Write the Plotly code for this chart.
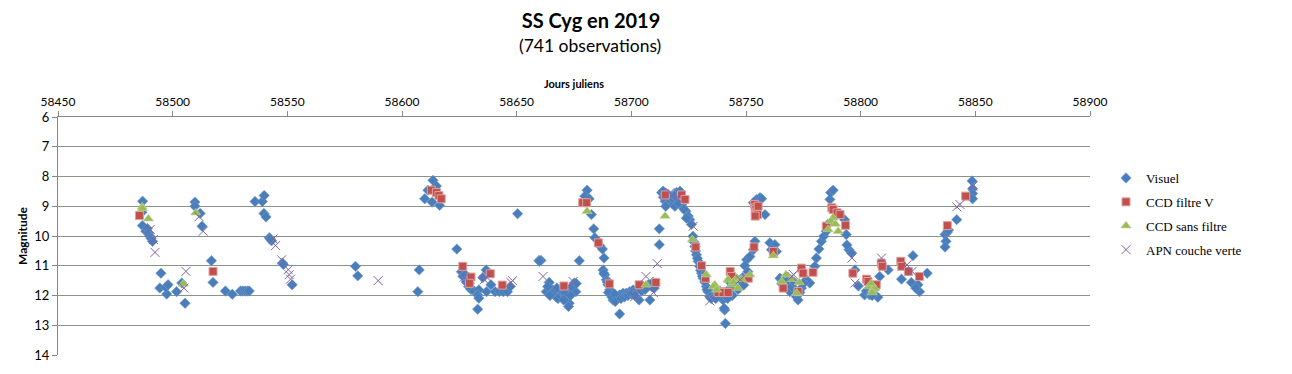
import plotly.graph_objects as go

# ---------------- data ----------------
visuel_jd = [
    58486.9, 58486.6, 58486.8, 58488.3, 58489.0, 58489.5, 58490.0, 58490.6, 58491.2, 58494.9,
    58494.4, 58497.4, 58497.0, 58498.0, 58501.7, 58504.0, 58505.4, 58509.7, 58509.7, 58512.0,
    58512.8, 58516.9, 58517.6, 58523.0, 58526.0, 58529.6, 58530.6, 58531.6, 58532.6, 58533.4,
    58535.9, 58539.1, 58539.9, 58539.8, 58540.7, 58542.1, 58543.1, 58542.6, 58547.9, 58548.3,
    58552.1,
    58579.7, 58580.7, 58607.5, 58606.9,
    58609.9, 58611.3, 58613.5, 58615.0, 58613.1, 58616.4, 58614.0, 58615.5,
    58623.9, 58625.9, 58626.5, 58627.6, 58628.6, 58629.4, 58630.1, 58630.8, 58628.0, 58629.0,
    58633.5, 58633.0, 58633.5, 58633.0, 58636.7, 58636.9, 58638.8, 58640.6, 58642.4, 58644.2,
    58646.0, 58647.2, 58635.2, 58650.4, 58659.8, 58660.6, 58659.9,
    58662.9, 58664.2, 58665.7, 58667.1, 58668.6, 58670.0, 58671.5, 58672.9, 58674.4, 58675.8,
    58675.1, 58672.6, 58663.5, 58665.0, 58666.5, 58668.0, 58669.5, 58671.0, 58673.5, 58670.5,
    58667.5, 58664.5, 58674.0, 58676.0, 58677.3,
    58680.7, 58679.7, 58681.6, 58682.6, 58683.6, 58684.1, 58686.2, 58687.4, 58688.1,
    58687.7, 58688.4, 58689.1, 58689.8, 58690.6, 58691.3, 58692.0, 58693.5, 58694.9, 58694.9,
    58696.4, 58697.8, 58699.3, 58700.8, 58702.2, 58703.7, 58703.4, 58705.2, 58708.1, 58707.4,
    58708.9, 58688.0, 58689.5, 58690.0, 58691.5, 58692.7, 58693.0, 58695.5, 58697.0, 58698.5,
    58700.0, 58701.5, 58704.5, 58706.0, 58709.5, 58710.0, 58712.2, 58712.2,
    58713.2, 58713.9, 58714.7, 58715.4, 58716.8, 58718.3, 58719.7, 58721.2, 58721.9, 58722.6,
    58723.8, 58724.8, 58725.5, 58726.2, 58714.0, 58715.0, 58716.0, 58717.5, 58718.8, 58720.2,
    58722.0, 58723.0, 58719.0, 58720.5, 58724.0,
    58726.9, 58727.7, 58728.4, 58729.1, 58729.8, 58730.6, 58731.3, 58732.7, 58733.4, 58734.2,
    58727.3, 58728.0, 58728.8, 58730.2, 58731.0, 58732.0, 58733.0, 58734.8, 58735.5, 58736.2,
    58737.0,
    58740.0, 58740.7, 58741.0, 58740.5, 58738.0, 58739.0, 58741.5, 58742.5, 58743.5, 58744.5,
    58745.5, 58746.5, 58747.5, 58748.5, 58749.0, 58744.0, 58746.0, 58742.0, 58736.8, 58738.5,
    58743.0,
    58750.3, 58751.7, 58753.2, 58753.9, 58749.5, 58750.8,
    58753.2, 58754.6, 58756.1, 58756.8, 58758.3,
    58760.4, 58762.6, 58761.1, 58763.3,
    58764.8, 58766.2, 58767.7, 58769.1, 58772.0, 58772.7, 58774.2, 58776.3, 58777.8, 58780.0,
    58765.5, 58768.0, 58770.0, 58771.0, 58773.5, 58775.0,
    58780.7, 58781.8, 58782.9, 58783.9, 58785.0, 58785.7, 58786.6, 58786.9, 58788.0,
    58793.0, 58793.7, 58794.9, 58796.0, 58794.0, 58797.5, 58799.0,
    58801.7, 58803.9, 58807.5, 58808.3, 58812.0, 58802.5, 58804.5, 58806.0, 58805.0,
    58817.8, 58822.8, 58822.1, 58825.0, 58825.7, 58829.0, 58824.0,
    58836.8, 58837.2, 58836.8, 58837.8, 58838.3, 58841.9,
    58848.6, 58848.8, 58848.8, 58848.8,
]
visuel_mag = [
    8.83, 9.20, 9.65, 9.84, 9.75, 9.90, 10.00, 10.08, 10.18, 11.25,
    11.75, 11.95, 11.72, 11.64, 11.87, 11.58, 12.26, 8.86, 9.00, 9.24,
    9.67, 10.83, 11.56, 11.85, 11.96, 11.85, 11.85, 11.85, 11.85, 11.85,
    8.84, 8.84, 8.64, 9.24, 9.36, 10.06, 10.16, 10.10, 10.91, 10.96,
    11.64,
    11.02, 11.34, 11.14, 11.87,
    8.75, 8.46, 8.13, 8.32, 8.86, 8.97, 8.50, 8.60,
    10.44, 11.20, 11.35, 11.30, 11.45, 11.60, 11.80, 11.80, 11.55, 11.70,
    11.81, 11.98, 12.09, 12.46, 11.14, 11.87, 11.64, 11.87, 11.87, 11.87,
    11.87, 11.70, 11.40, 9.25, 10.82, 10.82, 10.85,
    11.87, 11.56, 11.81, 12.04, 11.92, 12.09, 12.04, 12.26, 11.81, 11.87,
    11.58, 12.37, 11.70, 11.95, 11.85, 12.10, 11.80, 11.90, 12.00, 12.15,
    11.75, 12.00, 11.70, 11.60, 10.83,
    8.46, 8.66, 8.75, 9.28, 9.76, 10.06, 10.32, 10.44, 10.74,
    11.14, 11.30, 11.47, 11.64, 11.81, 11.98, 12.15, 12.04, 11.98, 12.62,
    11.92, 11.92, 11.87, 11.81, 11.81, 11.75, 12.15, 11.70, 12.15, 11.64,
    11.70, 11.25, 11.55, 11.90, 12.05, 11.95, 12.20, 12.10, 12.05, 12.00,
    11.95, 12.00, 11.85, 11.80, 11.55, 11.75, 10.29, 9.76,
    8.54, 8.49, 8.83, 8.66, 8.77, 8.94, 8.54, 8.49, 8.66, 8.88,
    9.17, 9.33, 9.45, 9.61, 8.70, 9.00, 8.60, 8.70, 8.65, 8.75,
    9.00, 9.10, 9.00, 8.90, 9.40,
    10.01, 10.35, 10.63, 10.85, 11.02, 11.25, 11.42, 11.70, 11.87, 12.04,
    10.20, 10.50, 10.75, 11.15, 11.35, 11.55, 11.80, 12.10, 11.95, 12.05,
    11.90,
    12.15, 12.49, 12.94, 12.43, 11.95, 12.05, 11.90, 11.80, 11.95, 11.70,
    11.60, 11.80, 11.50, 11.40, 11.65, 12.00, 11.45, 12.10, 12.10, 11.85,
    11.55,
    10.80, 10.69, 10.46, 10.18, 11.00, 11.20,
    8.88, 8.77, 8.71, 8.75, 9.28,
    10.23, 10.29, 10.46, 10.52,
    11.42, 11.53, 11.70, 11.87, 12.04, 12.15, 11.75, 11.47, 11.58, 11.02,
    11.60, 11.50, 11.70, 11.55, 11.90, 11.60,
    10.74, 10.44, 10.18, 10.01, 9.84, 9.61, 8.77, 8.54, 8.46,
    9.45, 9.95, 10.46, 10.57, 10.30, 11.14, 11.68,
    11.98, 11.98, 12.06, 11.36, 11.14, 11.85, 11.90, 11.80, 12.00,
    11.45, 10.66, 11.56, 11.64, 11.87, 11.25, 11.75,
    9.95, 10.18, 10.37, 9.87, 9.80, 9.45,
    8.15, 8.41, 8.57, 8.75,
]

ccdv_jd = [
    58485.5, 58517.6,
    58612.8, 58615.0, 58616.1, 58617.1,
    58626.5, 58630.1, 58629.4, 58638.5, 58643.7, 58670.6,
    58678.8, 58680.5, 58685.6, 58690.4, 58703.4, 58710.7,
    58714.8, 58721.9, 58723.4, 58728.1, 58730.6, 58732.3, 58739.3,
    58743.1, 58743.7, 58737.8, 58740.0, 58742.2, 58751.0,
    58753.8, 58754.0, 58754.3, 58754.6, 58755.0, 58754.0, 58755.3,
    58753.5, 58761.9, 58766.2, 58774.2, 58774.9, 58772.7, 58779.2,
    58787.4, 58788.0, 58789.7, 58785.0, 58793.4, 58791.0,
    58796.6, 58802.5, 58803.2, 58806.8, 58809.0, 58809.4,
    58817.5, 58817.9, 58820.8, 58825.6, 58837.8, 58845.8,
]
ccdv_mag = [
    9.31, 11.19,
    8.46, 8.54, 8.64, 8.75,
    11.02, 11.38, 11.59, 11.27, 11.65, 11.68,
    8.88, 8.88, 10.23, 11.61, 11.64, 11.56,
    8.62, 8.62, 8.77, 10.37, 11.00, 11.42, 11.87,
    11.19, 11.36, 11.90, 11.90, 11.90, 11.42,
    8.94, 9.05, 9.11, 9.20, 9.28, 9.33, 9.00,
    10.37, 10.52, 11.75, 11.08, 11.25, 11.87, 11.22,
    9.05, 9.11, 9.22, 9.67, 9.64, 9.28,
    11.25, 11.45, 11.53, 11.64, 10.91, 11.02,
    10.85, 11.02, 11.19, 11.36, 9.65, 8.66,
]

ccdsf_jd = [
    58486.7, 58486.8, 58489.4, 58510.1, 58504.6,
    58680.7, 58714.7, 58706.4, 58726.6, 58732.7, 58736.4, 58742.1,
    58735.7, 58737.2, 58742.3, 58743.8, 58745.9, 58751.7, 58744.5, 58746.5, 58748.0,
    58761.9, 58765.6, 58767.4, 58772.1, 58773.2, 58770.0,
    58785.8, 58788.0, 58790.2, 58787.0, 58789.0,
    58803.9, 58805.3, 58806.1, 58804.5, 58805.0,
]
ccdsf_mag = [
    9.02, 9.08, 9.42, 9.22, 11.61,
    9.17, 9.33, 11.64, 10.12, 11.30, 11.64, 11.47,
    11.70, 11.81, 11.47, 11.64, 11.42, 11.30, 11.55, 11.75, 11.45,
    10.66, 11.53, 11.30, 11.92, 11.56, 11.45,
    9.78, 9.39, 9.84, 9.50, 9.60,
    11.70, 11.81, 11.75, 11.60, 11.90,
]

apn_jd = [
    58490.2, 58491.6, 58492.3, 58505.8, 58504.9, 58511.5, 58513.3,
    58543.8, 58544.9, 58547.5, 58550.4, 58550.8, 58551.4, 58589.6,
    58627.2, 58635.9, 58636.9, 58647.5, 58648.2, 58661.5,
    58674.6, 58706.4, 58711.3, 58709.6, 58701.5, 58716.9, 58719.8, 58727.0,
    58734.2, 58747.5, 58770.0, 58770.7, 58796.2, 58797.6, 58809.1,
    58820.2, 58822.4, 58841.9, 58843.3, 58849.0,
]
apn_mag = [
    9.78, 10.12, 10.55, 11.19, 11.75, 9.35, 9.84,
    10.10, 10.32, 10.80, 11.13, 11.30, 11.45, 11.50,
    11.38, 11.47, 11.38, 11.56, 11.50, 11.36,
    11.53, 11.36, 10.93, 11.90, 12.04, 8.54, 8.71, 9.67,
    12.18, 11.47, 11.36, 11.30, 10.74, 11.58, 10.74,
    10.97, 11.19, 9.02, 8.94, 8.32,
]

x_ticks = [58450, 58500, 58550, 58600, 58650, 58700, 58750, 58800, 58850, 58900]
y_ticks = [6, 7, 8, 9, 10, 11, 12, 13, 14]

# ---------------- figure ----------------
W, H = 1284, 366          # page body adds an 8px offset
L, T, R, B = 50, 109, 202, 19
PW = W - L - R            # plot width in px
PH = H - T - B            # plot height in px

fig = go.Figure()
fig.add_trace(go.Scatter(
    x=visuel_jd, y=visuel_mag, mode="markers", name="Visuel",
    marker=dict(symbol="diamond", size=8, color="#4A7EBB",
                line=dict(width=0.6, color="#6F98CC")),
    legendgroup="a"))
fig.add_trace(go.Scatter(
    x=ccdv_jd, y=ccdv_mag, mode="markers", name="CCD filtre V",
    marker=dict(symbol="square", size=8, color="#C0504D",
                line=dict(width=1, color="#E0A09E")),
    legendgroup="b"))
fig.add_trace(go.Scatter(
    x=ccdsf_jd, y=ccdsf_mag, mode="markers", name="CCD sans filtre",
    marker=dict(symbol="triangle-up", size=9, color="#9BBB59",
                line=dict(width=0.6, color="#C3D69B")),
    legendgroup="c"))
fig.add_trace(go.Scatter(
    x=apn_jd, y=apn_mag, mode="markers", name="APN couche verte",
    marker=dict(symbol="x-thin", size=9, color="#8064A2",
                line=dict(width=1, color="#8064A2")),
    legendgroup="d"))

grid_col = "#8A938A"
fig.update_layout(
    width=W, height=H,
    margin=dict(l=L, r=R, t=T, b=B),
    paper_bgcolor="white", plot_bgcolor="white",
    font=dict(family="Lato, 'Open Sans', sans-serif", color="black"),
    title=dict(text="<b>SS Cyg en 2019</b>", x=583 / W, xanchor="center",
               y=1 - 13 / H, yanchor="middle", xref="container", yref="container",
               pad=dict(t=0, b=0, l=0, r=0),
               font=dict(size=20, family="Lato, sans-serif")),
    showlegend=True,
    legend=dict(x=(1098 - L) / PW, xanchor="left", y=(PH + T - 155) / PH, yanchor="top",
                font=dict(family="Liberation Serif, serif", size=13, color="black"),
                traceorder="grouped", tracegroupgap=4, itemwidth=30,
                bgcolor="rgba(0,0,0,0)"),
    annotations=[dict(text="(741 observations)", x=(582 - L) / PW, xref="paper",
                      y=(PH + T - 38) / PH, yref="paper", xanchor="center", yanchor="middle",
                      showarrow=False, font=dict(size=17.5, family="Lato, sans-serif"))],
)

fig.update_xaxes(
    side="top", range=[58450, 58900], tickvals=x_ticks, ticktext=[str(v) for v in x_ticks],
    showgrid=False, zeroline=False, showline=True, linecolor="#868686", linewidth=1,
    ticks="outside", ticklen=5, tickcolor="#868686", tickfont=dict(size=12),
    title=dict(text="<b>Jours juliens</b>", font=dict(size=11), standoff=3),
)
fig.update_yaxes(
    range=[14, 6], tickvals=y_ticks, ticktext=[str(v) for v in y_ticks],
    showgrid=True, gridcolor=grid_col, gridwidth=1, zeroline=False,
    showline=True, linecolor="#868686", linewidth=1,
    ticks="outside", ticklen=5, tickcolor="#868686", tickfont=dict(size=13),
    title=dict(text="<b>Magnitude</b>", font=dict(size=12), standoff=4),
)

fig.write_html("out.html")
